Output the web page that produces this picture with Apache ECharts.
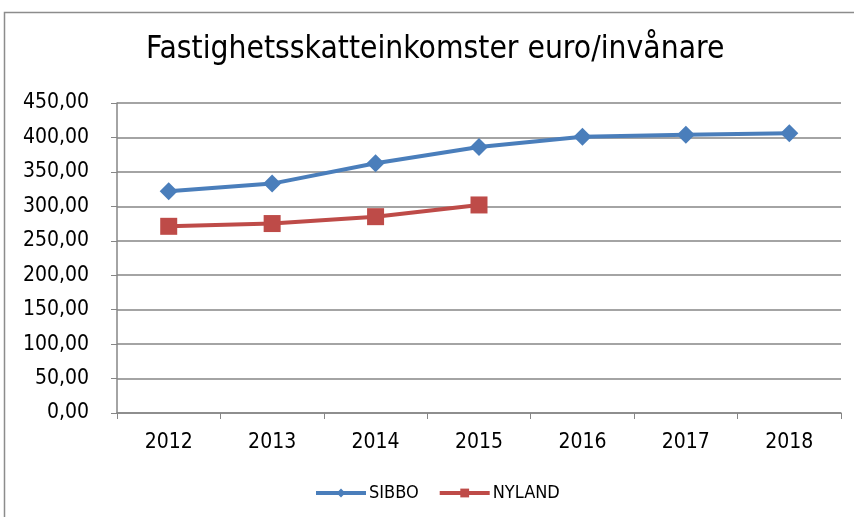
<!DOCTYPE html>
<html><head><meta charset="utf-8">
<script src="https://cdn.jsdelivr.net/npm/echarts@6/dist/echarts.min.js"></script>
<style>html,body{margin:0;padding:0;background:#fff}#c{width:854px;height:517px}</style>
</head><body><div id="c"></div>
<script>
const categories = ['2012','2013','2014','2015','2016','2017','2018'];
const sibbo = [322, 333, 362.5, 386, 401, 404, 406];
const nyland = [271, 275, 285, 302, null, null, null];
const yTicks = [0, 50, 100, 150, 200, 250, 300, 350, 400, 450];
const FONT = '"Liberation Sans Narrow", "DejaVu Sans Condensed", sans-serif';
const chart = echarts.init(document.getElementById('c'), null, {renderer: 'canvas'});
chart.setOption({
  backgroundColor: '#fff',
  animation: false,
  graphic: [{type: 'rect', shape: {x: 4.5, y: 12.5, width: 900, height: 600}, style: {fill: 'none', stroke: '#8c8c8c', lineWidth: 1.5}, silent: true, z: -1}],
  title: {text: 'Fastighetsskatteinkomster euro/invånare', left: 146, top: 34, padding: 0, textStyle: {fontFamily: FONT, fontSize: 31.5, fontWeight: 'normal', color: '#000'}},
  grid: {left: 117, right: 13, top: 103, bottom: 104, containLabel: false},
  legend: {bottom: 15, left: 314, padding: 0, itemWidth: 50, itemHeight: 11, itemGap: 19,
    lineStyle: {width: 4},
    textStyle: {fontFamily: FONT, fontSize: 18, color: '#000', padding: [0, 0, 0, -2]}, data: ['SIBBO', 'NYLAND']},
  xAxis: {type: 'category', data: categories, boundaryGap: true,
    axisLine: {lineStyle: {color: '#868686', width: 1.5}},
    axisTick: {show: true, length: 6, lineStyle: {color: '#868686'}},
    axisLabel: {fontFamily: FONT, fontSize: 21, color: '#000', margin: 19}},
  yAxis: {type: 'value', min: 0, max: 450, interval: 50,
    axisLine: {show: true, lineStyle: {color: '#868686', width: 1.5}},
    axisTick: {show: true, length: 6, lineStyle: {color: '#868686'}},
    splitLine: {lineStyle: {color: '#868686', width: 1.5}},
    axisLabel: {fontFamily: FONT, fontSize: 21, color: '#000', margin: 28,
      formatter: v => yTicks.includes(v) ? v.toFixed(2).replace('.', ',') : ''}},
  series: [
    {name: 'SIBBO', type: 'line', data: sibbo, symbol: 'diamond', symbolSize: 18,
      itemStyle: {color: '#4A7EBB'}, lineStyle: {color: '#4A7EBB', width: 4}},
    {name: 'NYLAND', type: 'line', data: nyland, symbol: 'rect', symbolSize: 17,
      itemStyle: {color: '#BE4B48'}, lineStyle: {color: '#BE4B48', width: 4}}
  ]
});
</script></body></html>
